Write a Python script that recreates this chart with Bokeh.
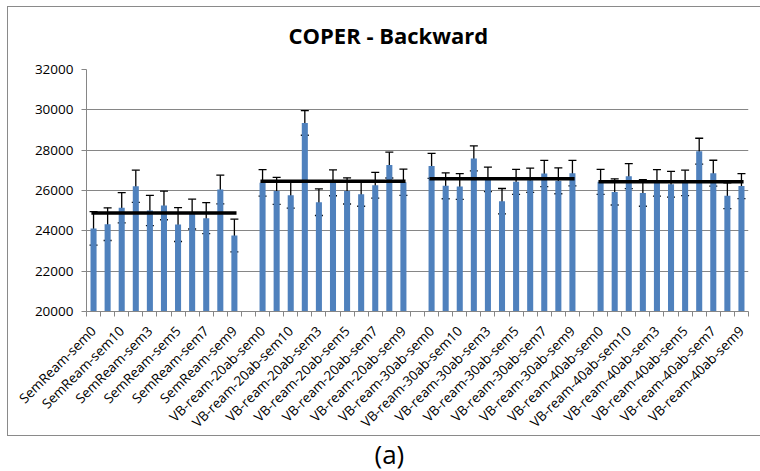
import math
from bokeh.plotting import figure
from bokeh.models import (ColumnDataSource, Whisker, TeeHead, FixedTicker,
                          Title, Range1d, InlineStyleSheet)
from bokeh.embed import file_html
from bokeh.resources import INLINE

# Configurations and runs (runs in lexical order, as in the source table)
groups = ["SemReam", "VB-ream-20ab", "VB-ream-30ab", "VB-ream-40ab"]
runs = ["sem0", "sem1", "sem10", "sem2", "sem3", "sem4",
        "sem5", "sem6", "sem7", "sem8", "sem9"]

# Mean COPER value per run
semream = [24120, 24330, 25140, 26210, 25010, 25260, 24310, 24830, 24630, 26050, 23770]
vb20ab = [26380, 25980, 25770, 29350, 25420, 26380, 25980, 25820, 26260, 27260, 26410]
vb30ab = [27220, 26230, 26200, 27590, 26550, 25470, 26430, 26510, 26840, 26480, 26860]
vb40ab = [26430, 25930, 26710, 25880, 26380, 26310, 26380, 27950, 26860, 25740, 26220]

# Half-width of the error bars
semream_err = [830, 810, 750, 800, 750, 710, 840, 740, 770, 710, 810]
vb20ab_err = [660, 670, 640, 610, 660, 640, 650, 600, 640, 640, 650]
vb30ab_err = [620, 640, 640, 620, 610, 630, 620, 600, 650, 640, 630]
vb40ab_err = [620, 650, 620, 660, 660, 640, 630, 640, 640, 640, 620]

y_ticks = [20000, 22000, 24000, 26000, 28000, 30000, 32000]

series = [semream, vb20ab, vb30ab, vb40ab]
errors = [semream_err, vb20ab_err, vb30ab_err, vb40ab_err]

# One slot per run plus an empty slot between configurations
slot = len(runs) + 1
xs, tops, ups, lows, names = [], [], [], [], []
for g, (vals, errs) in enumerate(zip(series, errors)):
    for j, (v, e) in enumerate(zip(vals, errs)):
        xs.append(g * slot + j)
        tops.append(v)
        ups.append(v + e)
        lows.append(v - e)
        names.append(f"{groups[g]}-{runs[j]}")

n_slots = len(groups) * slot - 1
src = ColumnDataSource(dict(x=xs, top=tops, upper=ups, lower=lows))

FONT = "Open Sans"
GRAY = "#868686"

# Thin frame around the whole chart area (open on the right edge)
chart_border = InlineStyleSheet(css="""
:host { position: relative; }
:host::after {
  content: "";
  position: absolute;
  left: 7px; top: 6px; width: 753px; height: 430px;
  border: 1px solid #8a8a8a; border-right: none;
  box-sizing: border-box;
  pointer-events: none;
  z-index: 10;
}
""")

p = figure(width=760, height=471, output_backend="svg", toolbar_location=None,
           x_range=Range1d(-0.5, n_slots - 0.5), y_range=Range1d(20000, 32000),
           min_border_left=86, min_border_right=12, min_border_top=69,
           min_border_bottom=160, stylesheets=[chart_border])
p.outline_line_color = None
p.background_fill_color = "white"
p.border_fill_color = "white"

p.title.text = "COPER - Backward"
p.title.text_font = FONT
p.title.text_font_size = "22px"
p.title.text_font_style = "bold"
p.title.text_color = "black"
p.title.align = "left"
p.title.vertical_align = "middle"
p.title.offset = 202
p.title.standoff = 37

# Bars
p.vbar(x="x", top="top", bottom=20000, width=0.43, source=src,
       fill_color="#4F81BD", line_color=None)

# Error bars
p.add_layout(Whisker(source=src, base="x", upper="upper", lower="lower",
                     line_color="black", line_width=1.3,
                     upper_head=TeeHead(size=8, line_color="black", line_width=1.3),
                     lower_head=TeeHead(size=8, line_color="black", line_width=1.3)))

# Configuration average lines
for g, vals in enumerate(series):
    m = sum(vals) / len(vals)
    p.segment(x0=g * slot - 0.15, x1=g * slot + len(vals) - 1 + 0.15, y0=m, y1=m,
              line_color="black", line_width=3.5)

# Axes
tick_pos = [x for x in xs if x % 2 == 0]
p.xaxis.ticker = FixedTicker(ticks=tick_pos,
                             minor_ticks=[i - 0.5 for i in range(n_slots + 1)])
p.xaxis.major_label_overrides = {x: names[xs.index(x)] for x in tick_pos}
p.xaxis.major_label_orientation = math.pi / 4
p.xaxis.major_tick_in = 0
p.xaxis.major_tick_out = 0
p.xaxis.minor_tick_in = 0
p.xaxis.minor_tick_out = 5
p.xaxis.minor_tick_line_color = GRAY
p.xaxis.axis_line_color = GRAY
p.xaxis.major_label_text_font = FONT
p.xaxis.major_label_text_font_size = "13.5px"
p.xaxis.major_label_text_color = "black"
p.xaxis.major_label_standoff = 12

p.yaxis.ticker = FixedTicker(ticks=y_ticks)
p.yaxis.axis_line_color = GRAY
p.yaxis.major_tick_line_color = GRAY
p.yaxis.major_tick_in = 0
p.yaxis.major_tick_out = 5
p.yaxis.minor_tick_line_color = None
p.yaxis.major_label_text_font = FONT
p.yaxis.major_label_text_font_size = "13.5px"
p.yaxis.major_label_text_color = "black"
p.yaxis.major_label_standoff = 8

p.xgrid.visible = False
p.ygrid.grid_line_color = GRAY
p.ygrid.ticker = FixedTicker(ticks=y_ticks)

# Caption under the chart
p.add_layout(Title(text="(a)", align="left", offset=288, vertical_align="top",
                   text_font=FONT, text_font_size="26px", text_font_style="normal",
                   text_color="black", standoff=-9), "below")

open("out.html", "w").write(file_html(p, INLINE))
